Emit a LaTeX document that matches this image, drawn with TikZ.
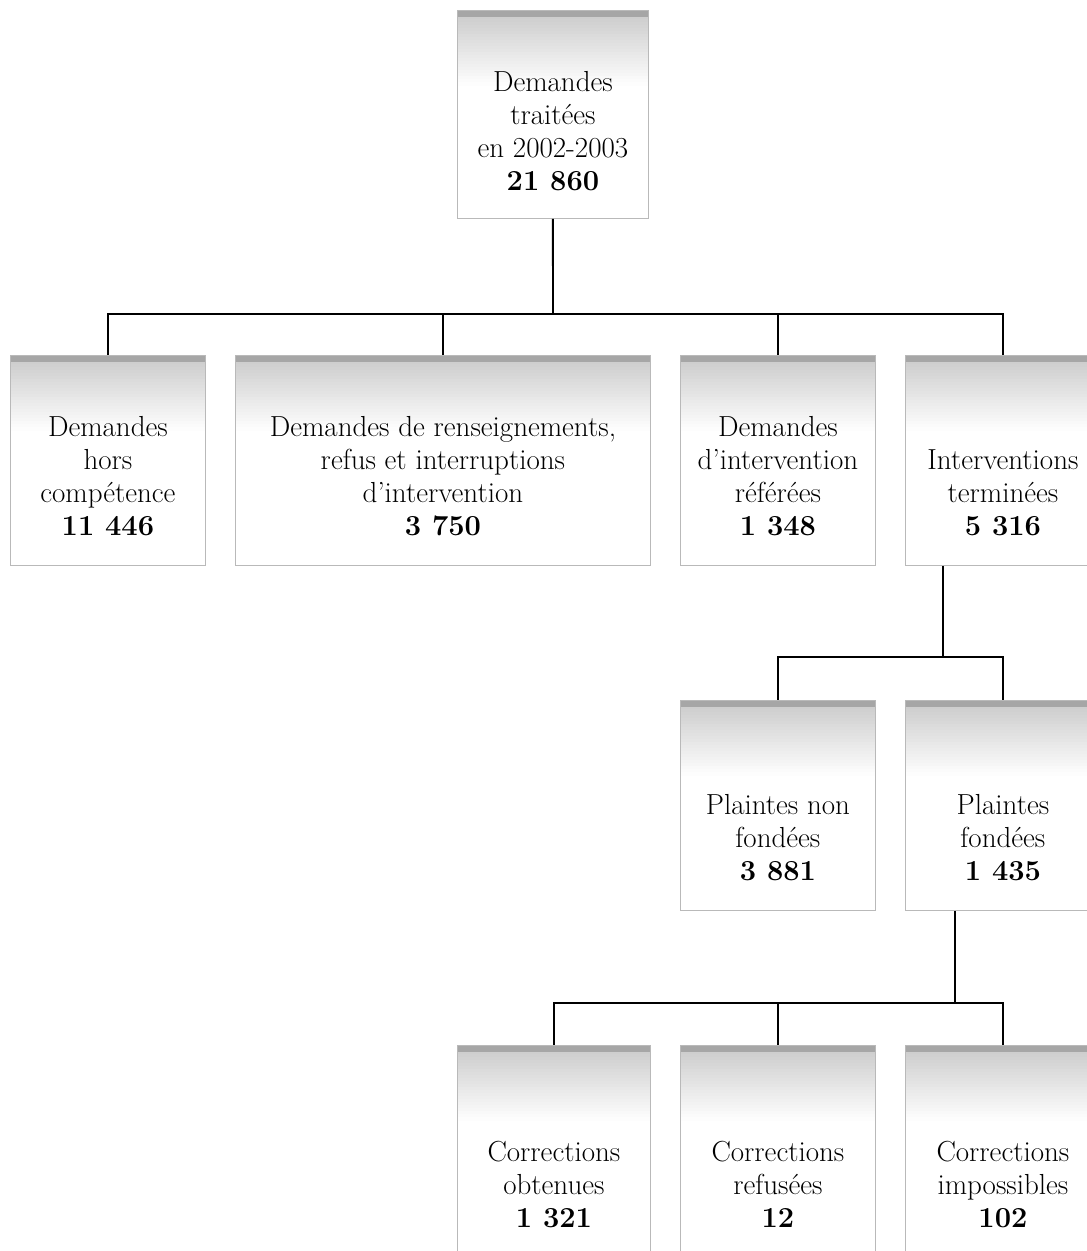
\documentclass[tikz,border=0pt]{standalone}
\usetikzlibrary{positioning}

\tikzset{
	boite/.style={draw=gray!55, line width=0.5pt, minimum width=3.9cm, minimum height=4.2cm,
		inner sep=0pt, anchor=north west,
		path picture={
			\foreach \i in {0,...,24}
				\fill[gray!\fpeval{42*(1-\i/25)}]
					([yshift=-\i*0.06cm]path picture bounding box.north west) rectangle ([yshift=-\i*0.06cm-0.065cm]path picture bounding box.north east);
			\fill[gray!70] (path picture bounding box.north west) rectangle ([yshift=-0.13cm]path picture bounding box.north east);
		}},
	texte/.style={align=center, inner sep=0pt, anchor=south, font=\fontsize{16.5}{18.8}\selectfont},
	lien/.style={line width=1.1pt, black}
}

\begin{document}
\begin{tikzpicture}[x=0.02cm, y=-0.02cm]

		\useasboundingbox (0, 0) rectangle (1087, 1251);

		% haut
		\node[boite, minimum width=3.82cm, minimum height=4.16cm] (total) at (457, 10) {};
			\node[texte, above=0.56cm of total.south] (t-total) {Demandes\\traitées\\en 2002-2003\\\textbf{21 860}};

		% premier niveau
		\node[boite] (hors) at (10, 355) {};
			\node[texte, above=0.6cm of hors.south] (t-hors) {Demandes\\hors\\compétence\\\textbf{11 446}};
		\node[boite, minimum width=8.3cm] (rens) at (235, 355) {};
			\node[texte, above=0.6cm of rens.south] (t-rens) {Demandes de renseignements,\\refus et interruptions\\d'intervention\\\textbf{3 750}};
		\node[boite] (refer) at (680, 355) {};
			\node[texte, above=0.6cm of refer.south] (t-refer) {Demandes\\d'intervention\\référées\\\textbf{1 348}};
		\node[boite] (term) at (905, 355) {};
			\node[texte, above=0.6cm of term.south] (t-term) {Interventions\\terminées\\\textbf{5 316}};

		% deuxieme niveau
		\node[boite] (nonf) at (680, 700) {};
			\node[texte, above=0.6cm of nonf.south] (t-nonf) {Plaintes non\\fondées\\\textbf{3 881}};
		\node[boite] (fond) at (905, 700) {};
			\node[texte, above=0.6cm of fond.south] (t-fond) {Plaintes\\fondées\\\textbf{1 435}};

		% troisieme niveau
		\node[boite, minimum width=3.86cm] (obt) at (457, 1045) {};
			\node[texte, above=0.56cm of obt.south] (t-obt) {Corrections\\obtenues\\\textbf{1 321}};
		\node[boite] (ref) at (680, 1045) {};
			\node[texte, above=0.56cm of ref.south] (t-ref) {Corrections\\refusées\\\textbf{12}};
		\node[boite] (imp) at (905, 1045) {};
			\node[texte, above=0.56cm of imp.south] (t-imp) {Corrections\\impossibles\\\textbf{102}};

		% liens
		\coordinate (j1) at (553, 314);
		\coordinate (j2) at (943, 657);
		\coordinate (j3) at (955, 1003);

		\draw[lien] (total.south) -- (j1);
			\draw[lien] (j1) -| (hors.north);
			\draw[lien] (j1) -| (rens.north);
			\draw[lien] (j1) -| (refer.north);
			\draw[lien] (j1) -| (term.north);

		\draw[lien] (j2 |- term.south) -- (j2);
			\draw[lien] (j2) -| (nonf.north);
			\draw[lien] (j2) -| (fond.north);

		\draw[lien] (j3 |- fond.south) -- (j3);
			\draw[lien] (j3) -| (obt.north);
			\draw[lien] (j3) -| (ref.north);
			\draw[lien] (j3) -| (imp.north);

	\end{tikzpicture}
\end{document}
